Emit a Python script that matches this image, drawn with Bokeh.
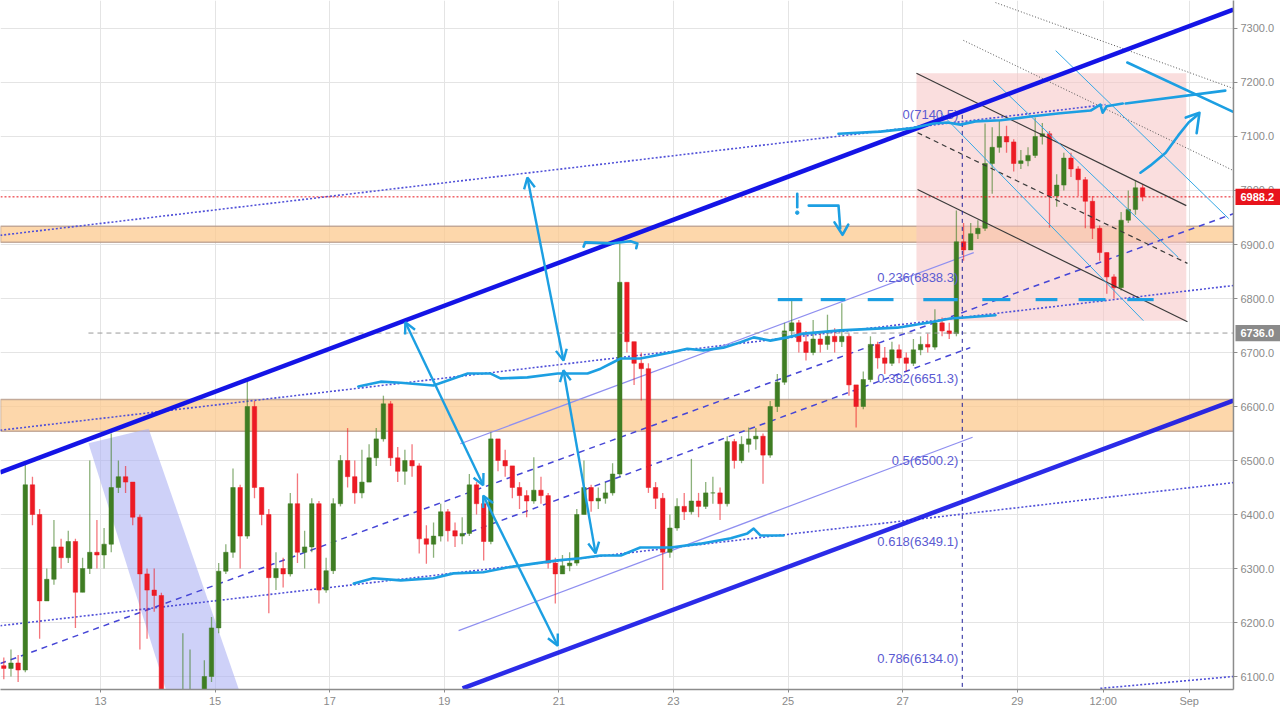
from bokeh.plotting import figure
from bokeh.models import (FixedTicker, Arrow, OpenHead, ColumnDataSource, BoxAnnotation)
from bokeh.embed import file_html
from bokeh.resources import INLINE
from bokeh.core.properties import value

# ---------------- price data (3-hour candles, BTC/USD, Aug 2018) ----------------
T0 = 11.25          # first candle starts on day 11.25 (Aug 11, 06:00)
STEP = 0.125        # 3 hours
OPEN0 = 6120
CLOSE = [6115, 6125, 6112, 6455, 6400, 6240, 6280, 6340, 6320, 6350,
         6256, 6300, 6330, 6325, 6345, 6450, 6470, 6460, 6395, 6290,
         6260, 6250, 6050, 6000, 5980, 6020, 6040, 6020, 6100, 6190,
         6295, 6330, 6450, 6360, 6600, 6450, 6400, 6283, 6300, 6290,
         6420, 6330, 6340, 6420, 6260, 6296, 6420, 6500, 6470, 6440,
         6460, 6505, 6540, 6605, 6505, 6480, 6500, 6490, 6355, 6345,
         6360, 6405, 6370, 6360, 6365, 6455, 6420, 6350, 6540, 6500,
         6490, 6450, 6435, 6425, 6445, 6435, 6310, 6290, 6305, 6310,
         6400, 6450, 6425, 6430, 6440, 6475, 6830, 6720, 6680, 6670,
         6450, 6430, 6330, 6375, 6415, 6405, 6425, 6415, 6440, 6440,
         6420, 6535, 6500, 6530, 6540, 6545, 6510, 6600, 6645, 6740,
         6755, 6720, 6700, 6725, 6715, 6730, 6720, 6730, 6640, 6600,
         6650, 6715, 6690, 6680, 6705, 6690, 6680, 6705, 6715, 6710,
         6755, 6740, 6735, 6905, 6890, 6920, 6930, 7050, 7080, 7100,
         7090, 7050, 7055, 7065, 7100, 7105, 6990, 7010, 7060, 7040,
         7020, 6980, 6930, 6885, 6840, 6820, 6945, 6965, 7005, 6988.2]
HIGH = [6135, 6150, 6140, 6495, 6470, 6410, 6300, 6390, 6355, 6370,
        6355, 6320, 6500, 6390, 6375, 6550, 6500, 6490, 6460, 6400,
        6300, 6300, 6255, 6060, 6030, 6180, 6150, 6070, 6130, 6210,
        6310, 6345, 6485, 6455, 6648, 6610, 6430, 6410, 6330, 6320,
        6440, 6476, 6370, 6430, 6425, 6320, 6430, 6510, 6560, 6500,
        6520, 6530, 6560, 6620, 6610, 6525, 6520, 6530, 6495, 6380,
        6385, 6420, 6410, 6385, 6395, 6475, 6460, 6425, 6552, 6530,
        6520, 6490, 6460, 6445, 6506, 6470, 6440, 6320, 6325, 6330,
        6410, 6500, 6455, 6450, 6460, 6495, 6902, 6830, 6720, 6700,
        6680, 6460, 6440, 6400, 6430, 6440, 6503, 6440, 6460, 6470,
        6450, 6545, 6540, 6545, 6561, 6560, 6550, 6610, 6660, 6755,
        6796, 6760, 6740, 6760, 6740, 6770, 6745, 6791, 6735, 6640,
        6665, 6730, 6720, 6710, 6720, 6715, 6700, 6725, 6730, 6735,
        6780, 6765, 6755, 6963, 6940, 6940, 6945, 7124, 7117, 7130,
        7120, 7095, 7075, 7080, 7135, 7125, 7110, 7030, 7070, 7070,
        7045, 7025, 6990, 6935, 6880, 6845, 6960, 7000, 7019, 7012]
LOW = [6095, 6100, 6090, 6108, 6380, 6170, 6250, 6270, 6300, 6310,
       6190, 6265, 6290, 6300, 6300, 6330, 6440, 6440, 6380, 6150,
       6170, 6220, 5990, 5950, 5900, 5960, 6000, 5970, 6010, 6090,
       6180, 6290, 6320, 6300, 6355, 6430, 6380, 6217, 6260, 6265,
       6285, 6310, 6300, 6330, 6235, 6255, 6290, 6415, 6450, 6420,
       6430, 6470, 6490, 6535, 6490, 6460, 6455, 6470, 6328, 6309,
       6320, 6350, 6350, 6340, 6345, 6360, 6400, 6315, 6345, 6480,
       6470, 6430, 6410, 6395, 6420, 6420, 6300, 6235, 6290, 6295,
       6305, 6420, 6405, 6410, 6420, 6435, 6470, 6700, 6640, 6611,
       6440, 6410, 6260, 6320, 6370, 6390, 6400, 6395, 6410, 6420,
       6390, 6415, 6485, 6495, 6515, 6520, 6457, 6505, 6590, 6640,
       6730, 6700, 6685, 6695, 6700, 6705, 6700, 6710, 6620, 6561,
       6595, 6645, 6670, 6660, 6675, 6680, 6665, 6675, 6695, 6700,
       6705, 6730, 6725, 6730, 6870, 6895, 6910, 6925, 6994, 7070,
       7070, 7035, 7040, 7045, 7060, 7085, 6931, 6970, 7000, 7025,
       6990, 6930, 6910, 6870, 6809, 6800, 6815, 6940, 6955, 6980]

X_TICKS = [13, 15, 17, 19, 21, 23, 25, 27, 29, 30.5, 32]
X_LABELS = ["13", "15", "17", "19", "21", "23", "25", "27", "29", "12:00", "Sep"]
Y_TICKS = [6100, 6200, 6300, 6400, 6500, 6600, 6700, 6800, 6900, 7000, 7100, 7200, 7300]

LAST_PRICE = 6988.2
MARK_PRICE = 6736.0

# Fibonacci retracement levels
FIB_RATIOS = ["0", "0.236", "0.382", "0.5", "0.618", "0.786"]
FIB_PRICES = [7140.5, 6838.3, 6651.3, 6500.2, 6349.1, 6134.0]

# support / resistance zones (price bands)
ZONES = [(6904, 6934), (6554, 6613)]

# ---------------- drawing anchors (day, price) ----------------
CH_UPPER = ([11.25, 32.77], [6478, 7335])
CH_LOWER = ([19.32, 32.77], [6078, 6611])
DOT_LINES = [([11.25, 30.54], [6917, 7159]),
             ([11.25, 32.77], [6194, 6459]),
             ([11.25, 32.77], [6556, 6824]),
             ([30.45, 32.77], [6078, 6100])]
DASH_LINES = [([11.25, 32.77], [6124, 6957]),
              ([19.28, 28.18], [6361, 6709])]
THIN_PURPLE = [([19.28, 28.24], [6531, 6885]),
               ([19.25, 28.22], [6185, 6543])]
BLACK_DOT = [([28.06, 32.77], [7278, 7037]),
             ([28.62, 32.77], [7348, 7189])]
LIGHT_LINES = [([27.66, 31.20], [7144, 6759]),
               ([28.58, 31.81], [7204, 6876]),
               ([29.67, 32.69], [7259, 6948])]
DESC_UPPER = ([27.24, 31.95], [7217, 6972])
DESC_MID = ([27.26, 31.97], [7107, 6865])
DESC_LOWER = ([27.26, 31.97], [7002, 6757])
PINK_BOX = (27.24, 31.95, 6759, 7217)
BAND = ([12.79, 13.84, 15.48, 14.20], [6532, 6559, 6056, 6056])
WHITE_BOX = (11.25, 12.79, 6711, 6759)
FIB_X = 27.97
FIB_VLINE = ([28.04, 28.04], [7140, 6000])

STROKE_TOP = ([25.88, 26.61, 27.14, 27.54, 27.78, 28.01, 28.27, 28.71, 29.23, 29.75,
               30.28, 30.45, 30.49, 30.56, 30.84],
              [7105, 7109, 7115, 7124, 7126, 7122, 7128, 7130, 7137, 7143,
               7148, 7159, 7144, 7156, 7161])
STROKE_MID = ([17.50, 17.89, 18.24, 18.81, 19.41, 19.81, 19.98, 20.45, 20.98, 21.50,
               21.73, 21.95, 22.08, 22.42, 22.95, 23.24, 23.52, 23.87, 24.17, 24.40,
               24.69, 24.99, 25.27, 25.91, 26.91, 27.49, 27.83, 28.62],
              [6637, 6646, 6644, 6639, 6661, 6661, 6652, 6654, 6661, 6661,
               6670, 6682, 6689, 6689, 6700, 6707, 6704, 6709, 6719, 6728,
               6722, 6728, 6735, 6741, 6746, 6756, 6763, 6769])
STROKE_LOW = ([17.42, 17.76, 18.24, 18.81, 19.16, 19.68, 20.10, 20.56, 20.98, 21.38,
               21.73, 22.08, 22.42, 22.95, 23.47, 24.00, 24.29, 24.40, 24.52, 24.92],
              [6272, 6282, 6278, 6282, 6291, 6293, 6302, 6309, 6315, 6319,
               6324, 6324, 6339, 6339, 6346, 6356, 6365, 6374, 6361, 6361])
STROKE_RISE = ([30.89, 32.63], [7161, 7185])
STROKE_FALL = ([30.92, 32.90], [7237, 7139])
STROKE_ARROW = ([31.15, 31.32, 31.59, 31.81, 31.99, 32.16],
                [7033, 7046, 7070, 7102, 7126, 7141])
STROKE_ARROW_HEAD = ([31.94, 32.18, 32.13], [7135, 7144, 7106])
BRACKET = ([21.43, 21.46, 21.90, 22.25, 22.37, 22.35],
           [6896, 6904, 6902, 6906, 6902, 6893])
HOOK = ([25.36, 25.88, 25.91], [6972, 6972, 6930])
HOOK_HEAD = ([25.81, 25.95, 26.05], [6941, 6918, 6937])
EXCL = ([25.16, 25.16], [6994, 6969])
EXCL_DOT = (25.16, 6959)
DASH_6800_X0 = [24.82, 25.57, 26.39, 27.36, 28.39, 29.32, 30.07, 30.92]
DASH_6800_X1 = [25.25, 26.00, 26.84, 27.96, 28.88, 29.70, 30.54, 31.38]
DASH_6800_Y = 6798
ARROWS = [((18.32, 6756), (19.68, 6454)),
          ((19.68, 6435), (20.98, 6157)),
          ((20.45, 7024), (21.08, 6685)),
          ((21.08, 6667), (21.64, 6328))]

# ---------------- figure geometry (day / price extents) ----------------
X_START, X_END = 11.2548, 33.5939     # visible days
AXIS_X = 32.7731                      # price-scale border
LABEL_X = 32.8953                     # price-scale text
TICK_X = 32.8430
TAG_X0, TAG_X1 = 32.8080, 33.70       # price tags
Y_BOT, Y_TOP = 6075.93, 7351.85

p = figure(frame_width=1280, frame_height=689, x_range=(X_START, X_END), y_range=(Y_BOT, Y_TOP),
           y_axis_location=None, output_backend="svg", toolbar_location=None,
           min_border_left=0, min_border_top=0, min_border_right=0, min_border_bottom=20,
           background_fill_color="white", border_fill_color="white")
p.outline_line_color = None
for g in p.grid:
    if g.dimension == 1:
        g.visible = False
    else:
        g.grid_line_color = "#e4e4e4"
p.xaxis.ticker = FixedTicker(ticks=X_TICKS)
p.xgrid.ticker = FixedTicker(ticks=X_TICKS)
p.xaxis.major_label_overrides = {t: l for t, l in zip(X_TICKS, X_LABELS)}
p.xaxis.bounds = (X_START, AXIS_X)
p.xaxis.axis_line_color = "#8c8c8c"
p.xaxis.axis_line_width = 1.5
p.xaxis.major_tick_line_color = "#8c8c8c"
p.xaxis.major_tick_in = 0
p.xaxis.major_tick_out = 3
p.xaxis.minor_tick_line_color = None
p.xaxis.major_label_text_color = "#8a8a8a"
p.xaxis.major_label_text_font = "Liberation Sans"
p.xaxis.major_label_text_font_size = "11px"
p.xaxis.major_label_standoff = 2

# horizontal grid (stops at the price scale)
p.segment(x0=[X_START] * len(Y_TICKS), y0=Y_TICKS, x1=[AXIS_X] * len(Y_TICKS), y1=Y_TICKS,
          line_color="#e4e4e4", line_width=1, level="underlay")

# zones
for lo_, hi_ in ZONES:
    p.add_layout(BoxAnnotation(bottom=lo_, top=hi_, fill_color="#fcc98f", fill_alpha=0.75,
                               line_color="#b59a8a", line_alpha=0.8, line_width=1.5, level="underlay"))
p.add_layout(BoxAnnotation(left=PINK_BOX[0], right=PINK_BOX[1], bottom=PINK_BOX[2], top=PINK_BOX[3],
                           fill_color="#f6c3c3", fill_alpha=0.55, line_color=None, level="underlay"))
p.patch(BAND[0], BAND[1], fill_color="#aeb2f4", fill_alpha=0.6, line_color=None)

# thin guide lines under candles
for xs_, ys_ in DOT_LINES:
    p.line(xs_, ys_, line_color="#5050d8", line_width=1.6, line_dash="2 2")
for xs_, ys_ in DASH_LINES:
    p.line(xs_, ys_, line_color="#4646d6", line_width=1.5, line_dash="6 5")
for xs_, ys_ in THIN_PURPLE:
    p.line(xs_, ys_, line_color="#8f8ff0", line_width=1.2)

# candles
opens = [OPEN0] + CLOSE[:-1]
xs = [T0 + STEP * (i + 0.5) for i in range(len(CLOSE))]
hi = [max(h, o, c) for h, o, c in zip(HIGH, opens, CLOSE)]
lo = [min(l, o, c) for l, o, c in zip(LOW, opens, CLOSE)]
colors = ["#3f7d23" if c >= o else "#ec1b24" for o, c in zip(opens, CLOSE)]
src = ColumnDataSource(dict(x=xs, o=opens, c=CLOSE, h=hi, l=lo,
                            top=[max(o, c) for o, c in zip(opens, CLOSE)],
                            bot=[min(o, c) for o, c in zip(opens, CLOSE)],
                            col=colors))
p.segment(x0="x", y0="h", x1="x", y1="l", source=src, line_color="col", line_width=1.3, line_alpha=0.6)
p.vbar(x="x", width=STEP * 0.62, top="top", bottom="bot", source=src,
       fill_color="col", line_color="col", line_width=0.5)

# white label box at the left edge
p.quad(left=[WHITE_BOX[0]], right=[WHITE_BOX[1]], bottom=[WHITE_BOX[2]], top=[WHITE_BOX[3]],
       fill_color="white", line_color=None)

# price lines
p.line([X_START, AXIS_X], [LAST_PRICE, LAST_PRICE], line_color="#e8141c", line_width=1, line_dash="2 2")
p.line([12.79, AXIS_X], [MARK_PRICE, MARK_PRICE], line_color="#9a9a9a", line_width=1, line_dash="5 4")

# descending channel
p.line(*DESC_UPPER, line_color="#3a3a3a", line_width=1.2)
p.line(*DESC_LOWER, line_color="#3a3a3a", line_width=1.2)
p.line(*DESC_MID, line_color="#3a3a3a", line_width=1.2, line_dash="5 4")
for xs_, ys_ in BLACK_DOT:
    p.line(xs_, ys_, line_color="#555555", line_width=1, line_dash="1 2")
for xs_, ys_ in LIGHT_LINES:
    p.line(xs_, ys_, line_color="#35a8e6", line_width=1)

# fib
p.line(*FIB_VLINE, line_color="#20209a", line_width=1, line_dash="4 4")
p.text(x=[FIB_X] * len(FIB_PRICES), y=FIB_PRICES,
       text=[f"{r}({v:.1f})" for r, v in zip(FIB_RATIOS, FIB_PRICES)],
       text_align="right", text_baseline="middle", text_color="#5a5ad2",
       text_font=value("Liberation Sans"), text_font_size="13px")

# main channel
p.line(*CH_UPPER, line_color="#1414e6", line_width=4.5)
p.line(*CH_LOWER, line_color="#1414e6", line_width=4.5, line_alpha=0.9)

# hand-drawn strokes
BL = "#1c9fe2"
for s in (STROKE_TOP, STROKE_MID, STROKE_LOW, STROKE_RISE, STROKE_FALL, STROKE_ARROW,
          STROKE_ARROW_HEAD, BRACKET, HOOK, HOOK_HEAD, EXCL):
    p.line(s[0], s[1], line_color=BL, line_width=2.6, line_join="round", line_cap="round")
p.scatter([EXCL_DOT[0]], [EXCL_DOT[1]], size=3.5, color=BL)
p.segment(x0=DASH_6800_X0, y0=[DASH_6800_Y] * len(DASH_6800_X0),
          x1=DASH_6800_X1, y1=[DASH_6800_Y] * len(DASH_6800_X1), line_color=BL, line_width=3.2)
for (a, b) in ARROWS:
    p.add_layout(Arrow(x_start=a[0], y_start=a[1], x_end=b[0], y_end=b[1],
                       line_color=BL, line_width=2.4,
                       start=OpenHead(size=11, line_color=BL, line_width=2.4),
                       end=OpenHead(size=11, line_color=BL, line_width=2.4)))

# ---------------- price scale (right) ----------------
p.quad(left=[AXIS_X], right=[X_END + 1], bottom=[Y_BOT - 100], top=[Y_TOP + 100],
       fill_color="white", line_color=None)
p.line([AXIS_X, AXIS_X], [Y_BOT - 100, Y_TOP + 100], line_color="#8c8c8c", line_width=1.5)
p.segment(x0=[AXIS_X] * len(Y_TICKS), y0=Y_TICKS, x1=[TICK_X] * len(Y_TICKS), y1=Y_TICKS,
          line_color="#8c8c8c", line_width=1)
p.text(x=[LABEL_X] * len(Y_TICKS), y=Y_TICKS, text=[f"{t:.1f}" for t in Y_TICKS],
       text_align="left", text_baseline="middle", text_color="#8a8a8a",
       text_font=value("Liberation Sans"), text_font_size="11px")
TAG_PRICES = [LAST_PRICE, MARK_PRICE]
TAG_COLORS = ["#e8141c", "#8a8a8a"]
p.quad(left=[TAG_X0] * 2, right=[TAG_X1] * 2,
       bottom=[v - 15 for v in TAG_PRICES], top=[v + 15 for v in TAG_PRICES],
       fill_color=TAG_COLORS, line_color=None)
p.text(x=[LABEL_X] * 2, y=TAG_PRICES, text=[f"{v:.1f}" for v in TAG_PRICES],
       text_align="left", text_baseline="middle", text_color="white", text_font_style="bold",
       text_font=value("Liberation Sans"), text_font_size="11px")

open("out.html", "w").write(file_html(p, INLINE))
